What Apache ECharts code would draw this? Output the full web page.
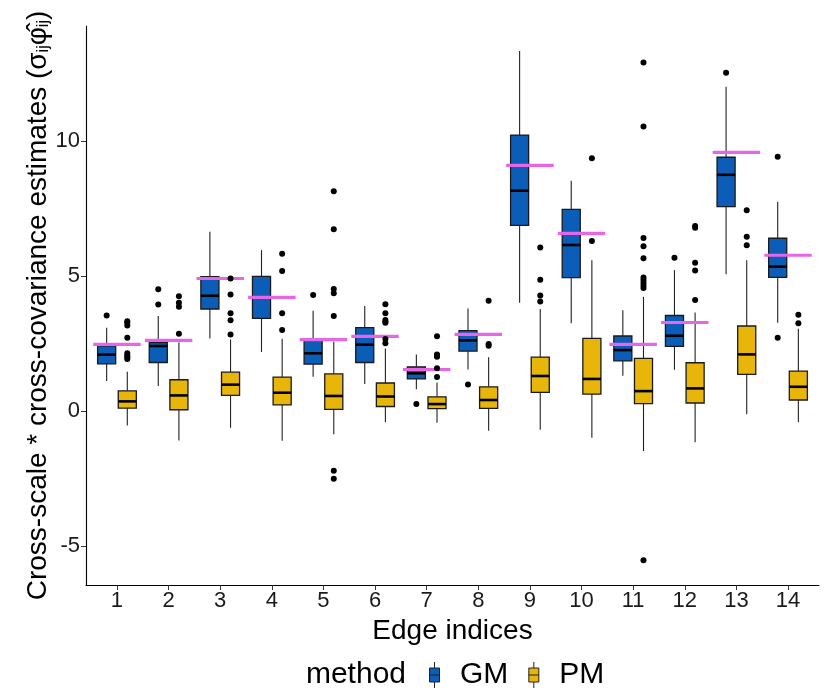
<!DOCTYPE html>
<html>
<head>
<meta charset="utf-8">
<script src="https://cdn.jsdelivr.net/npm/echarts@6/dist/echarts.min.js"></script>
<style>
  html, body { margin: 0; padding: 0; background: #fff; }
  #main { width: 825px; height: 700px; }
</style>
</head>
<body>
<div id="main"></div>
<script>
// edge indices
var edges = [1, 2, 3, 4, 5, 6, 7, 8, 9, 10, 11, 12, 13, 14];

// GM boxes: lower whisker, Q1, median, Q3, upper whisker
var gmLow  = [1.11, 0.93, 2.69, 2.19, 1.27, 1.00, 0.81, 1.54, 4.01, 3.25, 1.31, 1.53, 5.07, 3.27];
var gmQ1   = [1.75, 1.80, 3.78, 3.43, 1.74, 1.80, 1.19, 2.22, 6.88, 4.94, 1.86, 2.40, 7.57, 4.95];
var gmMed  = [2.09, 2.41, 4.27, 4.21, 2.14, 2.46, 1.40, 2.62, 8.16, 6.15, 2.26, 2.79, 8.75, 5.35];
var gmQ3   = [2.42, 2.54, 4.98, 4.99, 2.63, 3.09, 1.64, 2.98, 10.22, 7.47, 2.78, 3.54, 9.40, 6.40];
var gmHigh = [3.09, 3.52, 6.64, 5.96, 3.72, 3.89, 2.10, 3.80, 13.33, 8.53, 3.73, 5.22, 12.01, 7.75];

// PM boxes
var pmLow  = [-0.53, -1.09, -0.62, -1.10, -0.86, -0.41, -0.43, -0.73, -0.69, -0.99, -1.48, -1.15, -0.12, -0.41];
var pmQ1   = [0.11, 0.05, 0.58, 0.23, 0.06, 0.17, 0.09, 0.10, 0.69, 0.63, 0.28, 0.30, 1.36, 0.41];
var pmMed  = [0.36, 0.58, 0.98, 0.68, 0.56, 0.54, 0.26, 0.41, 1.30, 1.19, 0.74, 0.84, 2.10, 0.90];
var pmQ3   = [0.75, 1.16, 1.44, 1.26, 1.38, 1.04, 0.53, 0.90, 2.00, 2.69, 1.95, 1.79, 3.15, 1.48];
var pmHigh = [1.46, 2.54, 2.65, 2.68, 2.57, 2.32, 1.06, 1.99, 3.78, 5.59, 4.23, 3.65, 5.59, 3.05];

// outliers [edge, value]
var gmOutliers = [
  [1, 3.54], [2, 4.51], [2, 3.95], [5, 4.30], [7, 0.26], [8, 0.98],
  [12, 5.68], [13, 12.53], [14, 9.42], [14, 2.72]
];
var pmOutliers = [
  [1, 3.33], [1, 3.27], [1, 3.17], [1, 2.72], [1, 2.14], [1, 2.05], [1, 1.99], [1, 1.93],
  [2, 4.25], [2, 4.01], [2, 3.86], [2, 2.86],
  [3, 4.91], [3, 4.32], [3, 3.62], [3, 3.36], [3, 2.84],
  [4, 5.83], [4, 5.19], [4, 3.62], [4, 3.00],
  [5, 8.14], [5, 6.73], [5, 4.52], [5, 4.36], [5, 3.52], [5, -2.21], [5, -2.51],
  [6, 3.96], [6, 3.62], [6, 3.37], [6, 3.31], [6, 3.27], [6, 2.67], [6, 2.51],
  [7, 2.77], [7, 2.10], [7, 2.05], [7, 2.01], [7, 1.59], [7, 1.26],
  [8, 4.09], [8, 2.48], [8, 2.42],
  [9, 6.06], [9, 4.86], [9, 4.28], [9, 4.06],
  [10, 9.36], [10, 6.30],
  [11, 12.91], [11, 10.54], [11, 6.41], [11, 6.10], [11, 5.66], [11, 4.95], [11, 4.85],
  [11, 4.75], [11, 4.65], [11, 4.56], [11, -5.52],
  [12, 6.85], [12, 6.79], [12, 5.49], [12, 5.21], [12, 4.11],
  [13, 7.44], [13, 6.46], [13, 6.14],
  [14, 3.57], [14, 3.25]
];

// true values (magenta bars)
var truth = [2.47, 2.62, 4.91, 4.21, 2.65, 2.77, 1.54, 2.84, 9.10, 6.58, 2.47, 3.28, 9.58, 5.77];

var yTicks = [-5, 0, 5, 10];

var FONT = 'Liberation Sans, Arial, Helvetica, sans-serif';
var GM_COLOR = '#0C5DB7';
var PM_COLOR = '#E8B50B';

var myChart = echarts.init(document.getElementById('main'), null, { renderer: 'canvas' });

function boxData(lo, q1, md, q3, hi) {
  return edges.map(function (e, i) {
    return [e, lo[i], q1[i], md[i], q3[i], hi[i]];
  });
}

// draws a ggplot-style box, shifted by 'offset' category units
function boxRender(offset, color) {
  var boxW = 0.35;
  return function (params, api) {
    var x = api.value(0) + offset;
    var lo = api.coord([x, api.value(1)]);
    var q1 = api.coord([x, api.value(2)]);
    var md = api.coord([x, api.value(3)]);
    var q3 = api.coord([x, api.value(4)]);
    var hi = api.coord([x, api.value(5)]);
    var left = api.coord([x - boxW / 2, 0])[0];
    var right = api.coord([x + boxW / 2, 0])[0];
    return {
      type: 'group',
      children: [
        { type: 'line', shape: { x1: lo[0], y1: lo[1], x2: q1[0], y2: q1[1] },
          style: { stroke: '#222', lineWidth: 1.1 } },
        { type: 'line', shape: { x1: q3[0], y1: q3[1], x2: hi[0], y2: hi[1] },
          style: { stroke: '#222', lineWidth: 1.1 } },
        { type: 'rect', shape: { x: left, y: q3[1], width: right - left, height: q1[1] - q3[1] },
          style: { fill: color, stroke: '#1a1a1a', lineWidth: 1.3 } },
        { type: 'line', shape: { x1: left, y1: md[1], x2: right, y2: md[1] },
          style: { stroke: '#000', lineWidth: 2.6 } }
      ]
    };
  };
}

function truthRender(params, api) {
  var a = api.coord([api.value(0) - 0.46, api.value(1)]);
  var b = api.coord([api.value(0) + 0.46, api.value(1)]);
  return {
    type: 'line',
    shape: { x1: a[0], y1: a[1], x2: b[0], y2: b[1] },
    style: { stroke: '#E766E8', lineWidth: 3.2 }
  };
}

var option = {
  animation: false,
  backgroundColor: '#fff',
  grid: { left: 86, right: 6, top: 26, bottom: 115 },
  xAxis: {
    type: 'value',
    min: 0.4,
    max: 14.6,
    name: 'Edge indices',
    nameLocation: 'middle',
    nameGap: 27,
    nameTextStyle: { fontFamily: FONT, fontSize: 28, color: '#000' },
    splitLine: { show: false },
    axisLine: { show: true, onZero: false, lineStyle: { color: '#000', width: 1.1 } },
    axisTick: { show: true, length: 5, customValues: edges, lineStyle: { color: '#333' } },
    axisLabel: { customValues: edges, fontFamily: FONT, fontSize: 22, color: '#1a1a1a', margin: 5 }
  },
  yAxis: {
    type: 'value',
    min: -6.44,
    max: 14.26,
    name: '{a|Cross-scale * cross-covariance estimates (}{g|σ}{s|ij}{g|φ\u0302}{s|ij}{a|)}',
    nameLocation: 'middle',
    nameRotate: 90,
    nameGap: 34,
    nameMoveOverlap: false,
    nameTextStyle: {
      fontFamily: FONT,
      fontSize: 28,
      color: '#000',
      rich: {
        a: { fontFamily: FONT, fontSize: 28, color: '#000' },
        g: { fontFamily: FONT, fontSize: 28, color: '#000' },
        s: { fontFamily: FONT, fontSize: 16, color: '#000', verticalAlign: 'bottom' }
      }
    },
    splitLine: { show: false },
    axisLine: { show: true, onZero: false, lineStyle: { color: '#000', width: 1.1 } },
    axisTick: { show: true, length: 5, customValues: yTicks, lineStyle: { color: '#333' } },
    axisLabel: { customValues: yTicks, fontFamily: FONT, fontSize: 22, color: '#1a1a1a', margin: 6 }
  },
  legend: {
    left: 424,
    top: 655,
    itemWidth: 13,
    itemHeight: 26,
    itemGap: 20,
    textStyle: { fontFamily: FONT, fontSize: 30, color: '#000', padding: [0, 0, 0, 14] },
    data: [
      { name: 'GM', icon: 'path://M5,0V6M5,20V26M0,6H10V20H0ZM0,13H10',
        itemStyle: { color: GM_COLOR, borderColor: '#222', borderWidth: 1 } },
      { name: 'PM', icon: 'path://M5,0V6M5,20V26M0,6H10V20H0ZM0,13H10',
        itemStyle: { color: PM_COLOR, borderColor: '#222', borderWidth: 1 } }
    ]
  },
  graphic: [
    {
      type: 'text',
      x: 406,
      y: 675,
      style: { text: 'method', font: '30px ' + FONT, fill: '#000', align: 'right', verticalAlign: 'middle' }
    }
  ],
  series: [
    {
      name: 'GM',
      type: 'custom',
      itemStyle: { color: GM_COLOR },
      renderItem: boxRender(-0.2, GM_COLOR),
      encode: { x: 0, y: [1, 2, 3, 4, 5] },
      data: boxData(gmLow, gmQ1, gmMed, gmQ3, gmHigh)
    },
    {
      name: 'PM',
      type: 'custom',
      itemStyle: { color: PM_COLOR },
      renderItem: boxRender(0.2, PM_COLOR),
      encode: { x: 0, y: [1, 2, 3, 4, 5] },
      data: boxData(pmLow, pmQ1, pmMed, pmQ3, pmHigh)
    },
    {
      name: 'GM outliers',
      type: 'scatter',
      symbolSize: 6,
      itemStyle: { color: '#000', opacity: 1 },
      data: gmOutliers.map(function (d) { return [d[0] - 0.2, d[1]]; })
    },
    {
      name: 'PM outliers',
      type: 'scatter',
      symbolSize: 6,
      itemStyle: { color: '#000', opacity: 1 },
      data: pmOutliers.map(function (d) { return [d[0] + 0.2, d[1]]; })
    },
    {
      name: 'truth',
      type: 'custom',
      renderItem: truthRender,
      encode: { x: 0, y: 1 },
      data: edges.map(function (e, i) { return [e, truth[i]]; })
    }
  ]
};

if (option && typeof option === 'object') {
  myChart.setOption(option);
}

window.addEventListener('resize', myChart.resize);
</script>
</body>
</html>
